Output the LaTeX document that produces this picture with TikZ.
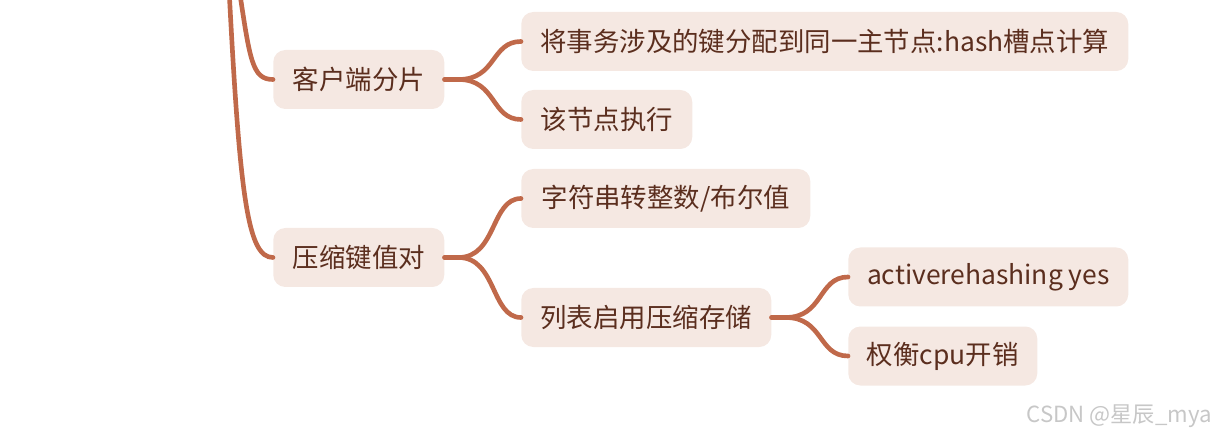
\documentclass[tikz,border=0pt]{standalone}
\usepackage{fontspec}
\setmainfont{Noto Sans CJK SC}
\usepackage{tikz}
\usetikzlibrary{positioning}
\usepackage{xcolor}
\definecolor{branchc}{HTML}{C0694A}
\definecolor{boxfill}{HTML}{F5E8E2}
\definecolor{boxtext}{HTML}{5B2E1E}

\begin{document}
\begin{tikzpicture}[x=0.025cm,y=-0.025cm,
  topic/.style={fill=boxfill,text=boxtext,rounded corners=12*0.025cm,minimum height=59*0.025cm,
    inner xsep=18*0.025cm,anchor=west,font=\fontsize{18.8}{22}\selectfont},
  branch/.style={draw=branchc,line width=3.3pt,line cap=round}]
\useasboundingbox (0,0) rectangle (1220,438);
\node[topic,minimum width=171*0.025cm] (shard) at (273,79.5) {客户端分片};
\node[topic,minimum width=171*0.025cm] (zip) at (273,257.5) {压缩键值对};
\node[topic,minimum width=607*0.025cm] (slot) at (521,41.5) {将事务涉及的键分配到同一主节点:hash槽点计算};
\node[topic,minimum width=171*0.025cm] (exec) at (521,119.5) {该节点执行};
\node[topic,minimum width=289*0.025cm] (str) at (521,198.5) {字符串转整数/布尔值};
\node[topic,minimum width=250*0.025cm] (list) at (521,317.5) {列表启用压缩存储};
\node[topic,minimum width=280*0.025cm] (rehash) at (848,277) {activerehashing yes};
\node[topic,minimum width=189*0.025cm] (cpu) at (848,356) {权衡cpu开销};
\node[text=black!22,font=\fontsize{15.8}{18}\selectfont,anchor=east,inner sep=0pt] (mark) at (1212,416) {CSDN @星辰\_mya};
% trunk lines from the root above
\coordinate (top1) at (239,-12);
\coordinate (top2) at (229,-12);
\draw[branch] (top1) .. controls (250,60) and (252,79.5) .. (shard.west);
\draw[branch] (top2) .. controls (240,200) and (248,257.5) .. (zip.west);
% forks
\foreach \p/\c in {shard/slot,shard/exec,zip/str,zip/list,list/rehash,list/cpu}
  \draw[branch] (\p.east) -- ++(14,0) .. controls +(38,0) and +(-30,0) .. (\c.west);
\end{tikzpicture}
\end{document}
